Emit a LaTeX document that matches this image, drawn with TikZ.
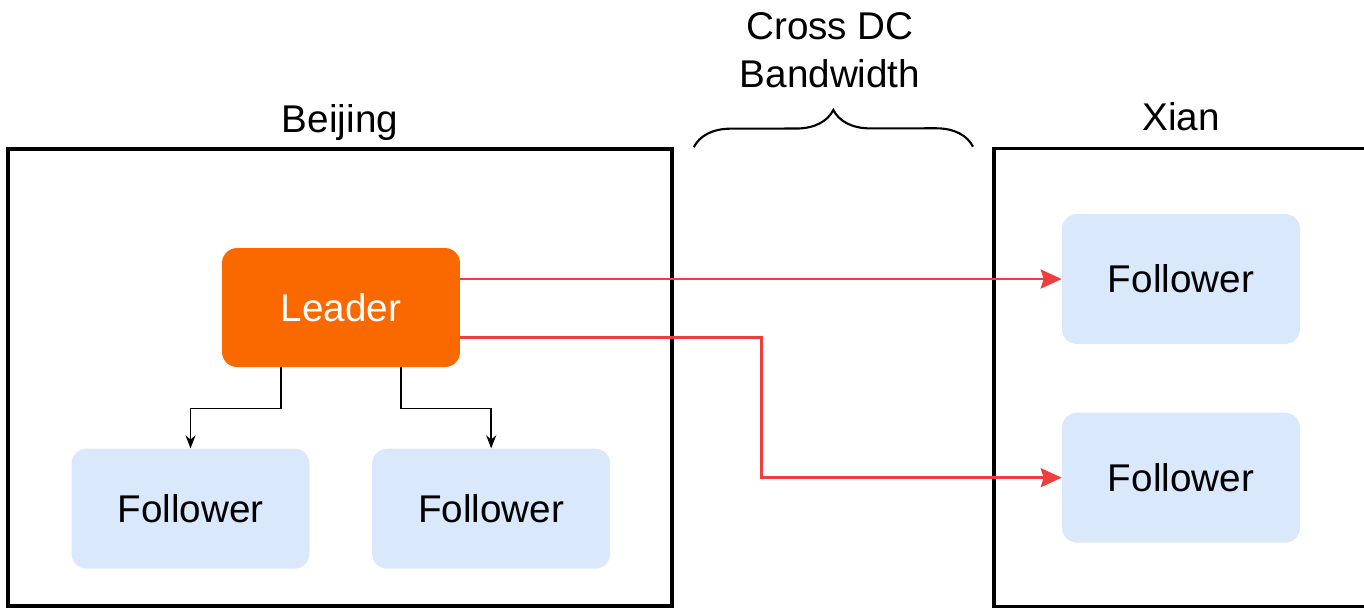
\documentclass[tikz,border=0pt]{standalone}
\usepackage{fontspec}
\setmainfont{Liberation Sans}
\usetikzlibrary{positioning}
\usetikzlibrary{arrows.meta}
\usetikzlibrary{decorations.pathreplacing}

\definecolor{leaderorange}{RGB}{250,104,0}
\definecolor{followerblue}{RGB}{218,232,252}
\definecolor{linkred}{RGB}{240,62,62}

\tikzset{
    dcbox/.style={rectangle, draw=black, line width=2.1pt},
    dctitle/.style={font=\fontsize{22}{27}\selectfont, anchor=base},
    leaderbox/.style={rectangle, rounded corners=0.3cm, fill=leaderorange, text=white, minimum width=4.76cm, minimum height=2.38cm, font=\fontsize{22}{27}\selectfont},
    follower/.style={rectangle, rounded corners=0.3cm, fill=followerblue, minimum width=4.76cm, minimum height=2.4cm, font=\fontsize{22}{27}\selectfont},
    tick/.style={->, >={Stealth[length=0.26cm, width=0.2cm]}, line width=0.85pt},
    link/.style={->, >={Stealth[length=0.42cm, width=0.38cm, inset=0.06cm]}, draw=linkred, line width=1.5pt},
    bandbrace/.style={decorate, decoration={brace, amplitude=0.74cm}, line width=1.2pt}
}

\begin{document}
\begin{tikzpicture}[x=0.02cm, y=-0.02cm]
    \useasboundingbox (0,0) rectangle (1364,610);
    \clip (0,0) rectangle (1364,610);

    \node [dcbox, minimum width=13.28cm, minimum height=9.14cm] (bj) at (340,377.5) {};
    \node [dcbox, minimum width=8cm, minimum height=9.16cm, anchor=west] (xa) at (992,377.5) {};
    \node [dctitle] (bjname) at (340,132) {Beijing};
    \node [dctitle] (xaname) at (1181,130) {Xian};
    \node [font=\fontsize{22}{27}\selectfont, align=center] (band) at (830,50) {Cross DC\\Bandwidth};
    \draw [bandbrace] ([xshift=0.4cm]bj.north east) -- ([xshift=-0.38cm]xa.north west);

    \node [leaderbox] (leader) at (341,307.5) {Leader};
    \node [follower, below=1.62cm of leader, xshift=-3.01cm] (bjf1) {Follower};
    \node [follower, right=1.24cm of bjf1] (bjf2) {Follower};
    \node [follower, minimum height=2.6cm] (xaf1) at (1181,279) {Follower};
    \node [follower, minimum height=2.6cm, below=1.36cm of xaf1] (xaf2) {Follower};

    \draw [tick] ([xshift=-1.2cm]leader.south) -- ++(0,-0.82cm) -| (bjf1.north);
    \draw [tick] ([xshift=1.2cm]leader.south) -- ++(0,-0.82cm) -| (bjf2.north);
    \draw [link] (leader.east |- xaf1.west) -- (xaf1.west);
    \draw [link] ([yshift=-0.6cm]leader.east) -- ++(6.02cm,0) |- (xaf2.west);
\end{tikzpicture}
\end{document}
